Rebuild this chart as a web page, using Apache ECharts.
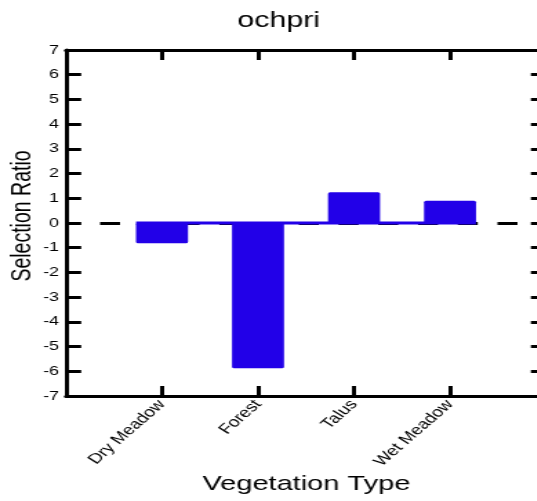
<!DOCTYPE html>
<html>
<head>
<meta charset="utf-8">
<script src="https://cdn.jsdelivr.net/npm/echarts@6/dist/echarts.min.js"></script>
<style>
  html, body { margin: 0; padding: 0; background: #fff; overflow: hidden; width: 537px; height: 501px; }
  /* the chart is laid out narrow and widened horizontally */
  #chart { width: 400px; height: 501px; transform: scaleX(1.38); transform-origin: 0 0; }
</style>
</head>
<body>
<div id="chart"></div>
<script>
// Vegetation types and their selection ratios
const categories = ['Dry Meadow', 'Forest', 'Talus', 'Wet Meadow'];
const selectionRatio = [-0.82, -5.88, 1.24, 0.90];
// y axis range and step
const yMin = -7;
const yMax = 7;
const yStep = 1;

const barColor = '#2200e8';
const barWidthUnits = 0.54;           // bar width in category units
const half = barWidthUnits / 2;

const chart = echarts.init(document.getElementById('chart'));

const blackLine = { color: '#000', width: 3 };

function xAxisBase(position, showLabels) {
  return {
    type: 'value',
    position: position,
    min: 0,
    max: categories.length + 1,
    interval: 1,
    axisLine: { show: true, onZero: false, lineStyle: blackLine },
    axisTick: { show: true, inside: true, length: 10, lineStyle: blackLine },
    splitLine: { show: false },
    axisLabel: showLabels ? {
      rotate: 50,
      margin: 6,
      fontSize: 14,
      fontFamily: 'Liberation Sans',
      color: '#000',
      formatter: v => categories[v - 1] || ''
    } : { show: false }
  };
}

function yAxisBase(position, showLabels) {
  return {
    type: 'value',
    position: position,
    min: yMin,
    max: yMax,
    interval: yStep,
    axisLine: { show: true, onZero: false, lineStyle: blackLine },
    axisTick: { show: true, inside: true, length: 11, lineStyle: blackLine },
    splitLine: { show: false },
    axisLabel: showLabels ? {
      margin: 5,
      fontSize: 13,
      fontFamily: 'Liberation Sans',
      color: '#000'
    } : { show: false }
  };
}

chart.setOption({
  animation: false,
  grid: { left: 47.8, top: 50, width: 347.9, height: 346 },
  xAxis: [xAxisBase('bottom', true), xAxisBase('top', false)],
  yAxis: [yAxisBase('left', true), yAxisBase('right', false)],
  graphic: [
    {
      type: 'text', x: 202, y: 21,
      style: { text: 'ochpri', fontSize: 22, fontFamily: 'Liberation Sans', fill: '#000', align: 'center', verticalAlign: 'middle' }
    },
    {
      type: 'text', x: 17, y: 216, rotation: Math.PI / 2,
      style: { text: 'Selection Ratio', fontSize: 19.5, fontFamily: 'Liberation Sans', fill: '#000', align: 'center', verticalAlign: 'middle' }
    },
    {
      type: 'text', x: 222, y: 484,
      style: { text: 'Vegetation Type', fontSize: 21, fontFamily: 'Liberation Sans', fill: '#000', align: 'center', verticalAlign: 'middle' }
    }
  ],
  series: [
    {
      // dashed reference line at zero
      type: 'line',
      data: [],
      silent: true,
      markLine: {
        z: 1,
        silent: true,
        symbol: 'none',
        label: { show: false },
        lineStyle: { color: '#000', width: 3, type: [14.5, 14.3], dashOffset: 4.1 },
        data: [{ yAxis: 0 }]
      }
    },
    {
      type: 'bar',
      z: 2,
      barWidth: 37.7,
      itemStyle: { color: barColor, borderRadius: 1.5 },
      data: categories.map((c, i) => [i + 1, selectionRatio[i]])
    },
    {
      // baseline joining the bars
      type: 'line',
      z: 3,
      symbol: 'none',
      silent: true,
      lineStyle: { color: barColor, width: 3 },
      data: [[1 - half, 0], [categories.length + half, 0]]
    }
  ]
});
</script>
</body>
</html>
